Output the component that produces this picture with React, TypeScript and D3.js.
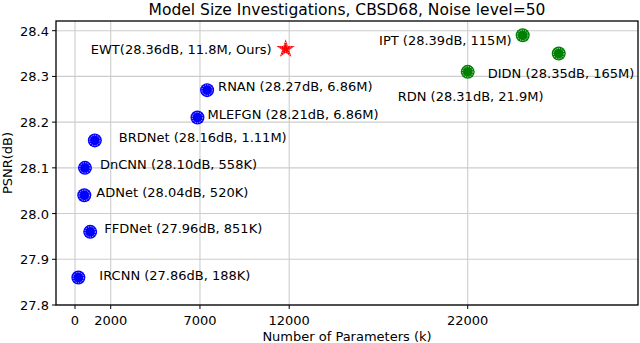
import React from "react";
import * as d3 from "d3";

const names = ["IRCNN", "FFDNet", "ADNet", "DnCNN", "BRDNet", "MLEFGN", "RNAN", "EWT", "RDN", "IPT", "DIDN"];
const labels = [
  "IRCNN (27.86dB, 188K)",
  "FFDNet (27.96dB, 851K)",
  "ADNet (28.04dB, 520K)",
  "DnCNN (28.10dB, 558K)",
  "BRDNet (28.16dB, 1.11M)",
  "MLEFGN (28.21dB, 6.86M)",
  "RNAN (28.27dB, 6.86M)",
  "EWT(28.36dB, 11.8M, Ours)",
  "RDN (28.31dB, 21.9M)",
  "IPT (28.39dB, 115M)",
  "DIDN (28.35dB, 165M)",
];
// plotted x position (k params, as drawn on the axis)
const params = [188, 851, 520, 558, 1110, 6860, 7400, 11800, 22000, 25080, 27100];
const psnr = [27.86, 27.96, 28.04, 28.1, 28.16, 28.21, 28.27, 28.36, 28.31, 28.39, 28.35];
const groups = ["blue", "blue", "blue", "blue", "blue", "blue", "blue", "ours", "green", "green", "green"];
// label offsets relative to the marker (px), anchor
const labelDx = [21, 14, 12, 15, 24, 10, 11, -14, -70, -11, -71];
const labelDy = [-3, -4, -3, -4, -3, -4, -4, 0, 24, 5, 19];
const labelAnchor = ["start", "start", "start", "start", "start", "start", "start", "end", "start", "end", "start"];

const xTicks = [0, 2000, 7000, 12000, 22000];
const yTicks = [27.8, 27.9, 28.0, 28.1, 28.2, 28.3, 28.4];

const W = 640;
const H = 343;
const margin = { top: 21, right: 2, bottom: 38, left: 56 };
const font = "DejaVu Sans";
const fs = 13;

export default function App() {
  const x = d3.scaleLinear().domain([-1065, 31540]).range([margin.left, W - margin.right]);
  const y = d3.scaleLinear().domain([27.8, 28.4212]).range([H - margin.bottom, margin.top]);
  const star = d3.symbol().type(d3.symbolStar).size(105)();
  const starInner = d3.symbol().type(d3.symbolStar).size(55)();
  const colorOf: Record<string, string> = { blue: "#0000ff", green: "#008000", ours: "#ff0000" };

  return (
    <svg width={W} height={H} style={{ position: "absolute", left: 0, top: 0 }} fontFamily={font}>
      <rect width={W} height={H} fill="#fff" />
      <text x={347} y={15} textAnchor="middle" fontSize={15.5} fill="#000">
        Model Size Investigations, CBSD68, Noise level=50
      </text>
      <g>
        {xTicks.map((t) => (
          <line key={"gx" + t} x1={x(t)} x2={x(t)} y1={margin.top} y2={H - margin.bottom} stroke="#cccccc" strokeWidth={1.1} />
        ))}
        {yTicks.map((t) => (
          <line key={"gy" + t} x1={margin.left} x2={W - margin.right} y1={y(t)} y2={y(t)} stroke="#cccccc" strokeWidth={1.1} />
        ))}
      </g>
      <g>
        {xTicks.map((t) => (
          <g key={"tx" + t}>
            <line x1={x(t)} x2={x(t)} y1={H - margin.bottom} y2={H - margin.bottom + 4} stroke="#000" />
            <text x={x(t)} y={H - margin.bottom + 20} textAnchor="middle" fontSize={fs} fill="#000">
              {t}
            </text>
          </g>
        ))}
        {yTicks.map((t) => (
          <g key={"ty" + t}>
            <line x1={margin.left - 4} x2={margin.left} y1={y(t)} y2={y(t)} stroke="#000" />
            <text x={margin.left - 7} y={y(t) + 5} textAnchor="end" fontSize={fs} fill="#000">
              {d3.format(".1f")(t)}
            </text>
          </g>
        ))}
      </g>
      <text x={347} y={341} textAnchor="middle" fontSize={fs} fill="#000">
        Number of Parameters (k)
      </text>
      <text transform={`translate(12,163) rotate(-90)`} textAnchor="middle" fontSize={fs} fill="#000">
        PSNR(dB)
      </text>
      <g>
        {names.map((n, i) => {
          const cx = x(params[i]);
          const cy = y(psnr[i]);
          const g = groups[i];
          return (
            <g key={n}>
              {g === "ours" ? (
                <g transform={`translate(${cx},${cy})`}>
                  <path d={star} fill={colorOf[g]} />
                  <path d={starInner} fill="none" stroke="#fff" strokeWidth={0.6} strokeDasharray="1 1.5" />
                </g>
              ) : (
                <g>
                  <circle cx={cx} cy={cy} r={7} fill={colorOf[g]} />
                  <circle cx={cx} cy={cy} r={5.2} fill="none" stroke="#fff" strokeWidth={0.7} strokeDasharray="1.2 1.2" />
                </g>
              )}
              <text
                x={cx + labelDx[i]}
                y={cy + labelDy[i] + 5}
                textAnchor={labelAnchor[i] as "start" | "end"}
                fontSize={fs}
                fill="#000"
              >
                {labels[i]}
              </text>
            </g>
          );
        })}
      </g>
      <rect x={margin.left} y={margin.top} width={W - margin.left - margin.right} height={H - margin.top - margin.bottom} fill="none" stroke="#000" strokeWidth={1.3} />
    </svg>
  );
}
